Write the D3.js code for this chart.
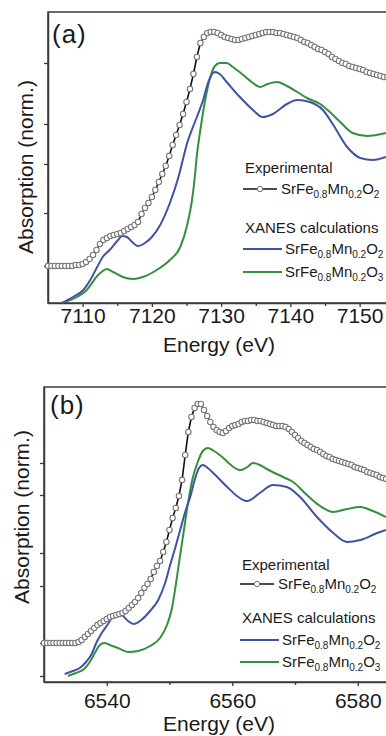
<!DOCTYPE html>
<html>
<head>
<meta charset="utf-8">
<script src="https://cdn.jsdelivr.net/npm/d3@7"></script>
<style>
body { margin: 0; background: #fff; }
svg { display: block; font-family: "Liberation Sans", Arial, sans-serif; }
</style>
</head>
<body>
<svg id="chart"></svg>
<script>
// ---- panel (a): Fe K-edge ----
const expAEnergy = [
7105,7105.5,7106,7106.5,7107,7107.5,7108,7108.5,7109,7109.5,
7110,7110.5,7111,7111.5,7112,7112.5,7113,7113.5,7114,7114.5,
7115,7115.5,7116,7116.5,7117,7117.5,7118,7118.5,7119,7119.5,
7120,7120.5,7121,7121.5,7122,7122.5,7123,7123.5,7124,7124.5,
7125,7125.5,7126,7126.5,7127,7127.5,7128,7128.5,7129,7129.5,
7130,7130.5,7131,7131.5,7132,7132.5,7133,7133.5,7134,7134.5,
7135,7135.5,7136,7136.5,7137,7137.5,7138,7138.5,7139,7139.5,
7140,7140.5,7141,7141.5,7142,7142.5,7143,7143.5,7144,7144.5,
7145,7145.5,7146,7146.5,7147,7147.5,7148,7148.5,7149,7149.5,
7150,7150.5,7151,7151.5,7152,7152.5,7153,7153.5,7154,7154.5,
7155];
const expAValue = [
.37,.37,.37,.37,.37,.37,.37,.37,.38,.38,
.39,.41,.44,.48,.53,.59,.63,.65,.67,.68,
.69,.70,.72,.74,.76,.78,.81,.89,.95,1.00,
1.06,1.13,1.21,1.29,1.37,1.47,1.58,1.68,1.78,1.89,
2.01,2.14,2.29,2.46,2.60,2.66,2.70,2.71,2.71,2.70,
2.68,2.66,2.65,2.64,2.63,2.63,2.64,2.65,2.66,2.67,
2.68,2.69,2.70,2.71,2.71,2.71,2.70,2.70,2.69,2.68,
2.67,2.66,2.65,2.63,2.61,2.60,2.58,2.56,2.54,2.53,
2.51,2.49,2.46,2.44,2.42,2.40,2.39,2.37,2.36,2.35,
2.34,2.33,2.31,2.30,2.29,2.28,2.27,2.26,2.26,2.25,
2.25];
const calcAO2Energy = [7107.0,7108.6,7110.1,7111.1,7112.1,7112.9,7113.9,7115.0,7115.7,7116.4,7117.3,7118.0,7119.0,7120.0,7121.2,7122.6,7123.8,7125.1,7126.5,7127.4,7128.1,7128.7,7129.1,7129.8,7130.8,7132.7,7134.6,7136.0,7137.5,7139.5,7141.0,7142.8,7144.7,7146.2,7148.2,7150.1,7151.9,7153.8];
const calcAO2Value = [0,.06,.13,.23,.36,.46,.53,.62,.67,.66,.60,.57,.60,.66,.78,1.00,1.25,1.60,1.86,2.03,2.20,2.29,2.31,2.29,2.21,2.06,1.93,1.86,1.89,1.99,2.03,2.01,1.93,1.78,1.56,1.45,1.43,1.46];
const calcAO3Energy = [7107.0,7109.2,7110.6,7112.1,7112.9,7113.5,7114.4,7115.8,7117.3,7118.7,7120.7,7122.6,7124.1,7125.1,7125.8,7126.2,7126.5,7127.0,7127.7,7128.4,7129.1,7129.8,7130.8,7131.7,7133.2,7134.6,7135.6,7136.7,7138.1,7139.5,7141.0,7142.4,7144.3,7145.7,7147.2,7149.0,7151.1,7153.8];
const calcAO3Value = [0,.06,.13,.27,.32,.34,.31,.26,.24,.26,.33,.43,.56,.78,1.03,1.26,1.48,1.73,2.03,2.25,2.37,2.40,2.40,2.36,2.28,2.20,2.16,2.19,2.21,2.17,2.11,2.05,1.99,1.91,1.81,1.70,1.67,1.70];
const xTicksA = [7110, 7120, 7130, 7140, 7150];
const xMinorA = [7115, 7125, 7135, 7145];
const yTicksA = [0.37, 0.90, 1.39, 1.79, 2.40];

// ---- panel (b): Mn K-edge ----
const expBEnergy = [
6530,6530.5,6531,6531.5,6532,6532.5,6533,6533.5,6534,6534.5,
6535,6535.5,6536,6536.5,6537,6537.5,6538,6538.5,6539,6539.5,
6540,6540.5,6541,6541.5,6542,6542.5,6543,6543.5,6544,6544.5,
6545,6545.5,6546,6546.5,6547,6547.5,6548,6548.5,6549,6549.5,
6550,6550.5,6551,6551.5,6552,6552.5,6553,6553.5,6554,6554.5,
6555,6555.5,6556,6556.5,6557,6557.5,6558,6558.5,6559,6559.5,
6560,6560.5,6561,6561.5,6562,6562.5,6563,6563.5,6564,6564.5,
6565,6565.5,6566,6566.5,6567,6567.5,6568,6568.5,6569,6569.5,
6570,6570.5,6571,6571.5,6572,6572.5,6573,6573.5,6574,6574.5,
6575,6575.5,6576,6576.5,6577,6577.5,6578,6578.5,6579,6579.5,
6580,6580.5,6581,6581.5,6582,6582.5,6583,6583.5,6584,6584.5,
6585];
const expBValue = [
.39,.39,.39,.39,.39,.39,.39,.39,.39,.39,
.39,.40,.42,.45,.48,.51,.54,.57,.59,.61,
.63,.65,.66,.67,.68,.69,.71,.74,.77,.80,
.84,.89,.94,.98,1.03,1.10,1.16,1.21,1.30,1.40,
1.52,1.64,1.74,1.86,2.02,2.27,2.50,2.65,2.74,2.78,
2.78,2.72,2.66,2.60,2.55,2.52,2.50,2.49,2.51,2.54,
2.56,2.57,2.58,2.60,2.61,2.61,2.62,2.62,2.61,2.61,
2.60,2.59,2.58,2.57,2.56,2.56,2.56,2.55,2.53,2.50,
2.47,2.44,2.41,2.39,2.37,2.35,2.33,2.32,2.30,2.28,
2.26,2.25,2.23,2.22,2.21,2.20,2.19,2.18,2.17,2.15,
2.14,2.13,2.12,2.10,2.09,2.08,2.07,2.05,2.04,2.03,
2.03];
const calcBO2Energy = [6533.3,6534.6,6535.7,6536.7,6537.6,6538.4,6539.2,6540.2,6541.0,6541.6,6542.4,6543.4,6544.3,6545.5,6546.9,6548.2,6549.3,6550.1,6550.9,6551.7,6552.5,6553.3,6554.1,6554.7,6555.3,6556.1,6557.3,6559.2,6561.2,6562.4,6564.4,6566.5,6568.7,6570.8,6573.5,6576.1,6578.3,6580.4,6583.1,6584.5];
const calcBO2Value = [.08,.11,.14,.20,.28,.40,.49,.58,.66,.69,.67,.61,.58,.62,.71,.82,.99,1.17,1.34,1.52,1.70,1.85,2.04,2.14,2.17,2.14,2.07,1.95,1.84,1.81,1.89,1.97,1.95,1.85,1.65,1.49,1.40,1.42,1.49,1.52];
const calcBO3Energy = [6533.8,6535.1,6536.4,6537.3,6538.1,6538.9,6539.6,6540.5,6541.8,6543.4,6545.0,6546.9,6548.5,6549.6,6550.4,6551.0,6551.7,6552.3,6552.9,6553.7,6554.5,6555.3,6556.1,6557.1,6558.4,6559.6,6561.2,6562.4,6563.3,6564.4,6565.5,6568.1,6569.7,6571.9,6574.0,6576.1,6578.3,6580.4,6582.4,6584.5];
const calcBO3Value = [.06,.09,.13,.20,.29,.37,.39,.37,.34,.30,.31,.36,.44,.57,.74,.97,1.27,1.52,1.77,2.04,2.20,2.31,2.34,2.31,2.25,2.18,2.12,2.15,2.19,2.17,2.13,2.05,2.00,1.87,1.76,1.70,1.73,1.75,1.71,1.65];
const xTicksB = [6540, 6560, 6580];
const xMinorB = [6550, 6570];
const yTicksB = [0.06, 0.39, 0.96, 1.29, 1.87, 2.19];

const blue = "#4152a6";
const green = "#35903e";
const textCol = "#1a1a1a";
const axisCol = "#3a3a3a";

let svg = d3.select("#chart").attr("width", 386).attr("height", 736);

function zip(xs, ys) {
  return xs.map((x, i) => ({ x: x, y: ys[i] }));
}

function drawPanel(p) {
  let g = svg.append("g");
  let x = d3.scaleLinear().domain(p.xDomain).range(p.xRange);
  let y = d3.scaleLinear().domain(p.yDomain).range(p.yRange);

  // frame (right edge falls outside the picture)
  g.append("rect")
    .attr("x", x(p.xDomain[0])).attr("y", y(p.yDomain[1]))
    .attr("width", x(p.xDomain[1]) - x(p.xDomain[0]))
    .attr("height", y(p.yDomain[0]) - y(p.yDomain[1]))
    .attr("fill", "none").attr("stroke", axisCol).attr("stroke-width", 1.5);

  // axes
  let ax = g.append("g").attr("transform", `translate(0,${y(p.yDomain[0])})`)
    .call(d3.axisBottom(x).tickValues(p.xTicks).tickSize(4).tickSizeOuter(0).tickFormat(d3.format("d")));
  ax.select(".domain").attr("stroke", axisCol).attr("stroke-width", 1.5);
  ax.selectAll(".tick line").attr("stroke", axisCol).attr("stroke-width", 1.3);
  ax.selectAll(".tick text").attr("fill", textCol).attr("font-size", 21)
    .attr("font-family", "Liberation Sans, Arial, sans-serif").attr("dy", null).attr("y", p.tickLabelY);
  let axm = g.append("g").attr("transform", `translate(0,${y(p.yDomain[0])})`)
    .call(d3.axisBottom(x).tickValues(p.xMinor).tickSize(3).tickSizeOuter(0).tickFormat(""));
  axm.select(".domain").remove();
  axm.selectAll(".tick line").attr("stroke", axisCol).attr("stroke-width", 1.3);

  let ay = g.append("g").attr("transform", `translate(${x(p.xDomain[0])},0)`)
    .call(d3.axisLeft(y).tickValues(p.yTicks).tickSize(4).tickSizeOuter(0).tickFormat(""));
  ay.select(".domain").attr("stroke", axisCol).attr("stroke-width", 1.5);
  ay.selectAll(".tick line").attr("stroke", axisCol).attr("stroke-width", 1.3);

  // titles
  g.append("text").attr("x", 219).attr("y", p.xTitleY).attr("text-anchor", "middle")
    .attr("font-size", 21).attr("fill", textCol).text("Energy (eV)");
  g.append("text").attr("transform", `translate(${p.yTitleX},${p.yTitleY}) rotate(-90)`)
    .attr("text-anchor", "middle").attr("font-size", 21).attr("fill", textCol).text("Absorption (norm.)");
  g.append("text").attr("x", p.tagX).attr("y", p.tagY).attr("font-size", 26)
    .attr("letter-spacing", 1).attr("fill", textCol).text(p.tag);

  // curves
  let smooth = d3.line().x(d => x(d.x)).y(d => y(d.y)).curve(d3.curveMonotoneX);
  let straight = d3.line().x(d => x(d.x)).y(d => y(d.y));
  g.append("path").datum(zip(p.o3E, p.o3V)).attr("d", smooth)
    .attr("fill", "none").attr("stroke", green).attr("stroke-width", 2);
  g.append("path").datum(zip(p.o2E, p.o2V)).attr("d", smooth)
    .attr("fill", "none").attr("stroke", blue).attr("stroke-width", 2);
  g.append("path").datum(zip(p.expE, p.expV)).attr("d", straight)
    .attr("fill", "none").attr("stroke", "#111").attr("stroke-width", 1.6);
  g.selectAll(".pt").data(zip(p.expE, p.expV)).enter().append("circle")
    .attr("cx", d => x(d.x)).attr("cy", d => y(d.y)).attr("r", 2.7)
    .attr("fill", "#fff").attr("stroke", "#777").attr("stroke-width", 1.1);

  // legend
  let L = p.legend;
  let leg = g.append("g");
  leg.append("text").attr("x", L.x).attr("y", L.rows[0]).attr("font-size", 15).attr("fill", textCol).text("Experimental");
  leg.append("text").attr("x", L.x).attr("y", L.rows[2]).attr("font-size", 15).attr("fill", textCol).text("XANES calculations");
  let ly = L.rows[1] - 5;
  leg.append("line").attr("x1", L.x - 2).attr("x2", L.x + 32).attr("y1", ly).attr("y2", ly)
    .attr("stroke", "#111").attr("stroke-width", 1.6);
  leg.append("circle").attr("cx", L.x + 15).attr("cy", ly).attr("r", 2.7)
    .attr("fill", "#fff").attr("stroke", "#777");
  formula(leg, L.x + 36, L.rows[1], "2");
  [[L.rows[3], blue, "2"], [L.rows[4], green, "3"]].forEach(r => {
    leg.append("line").attr("x1", L.x - 2).attr("x2", L.x + 37).attr("y1", r[0] - 5).attr("y2", r[0] - 5)
      .attr("stroke", r[1]).attr("stroke-width", 2);
    formula(leg, L.x + 40, r[0], r[2]);
  });
}

function formula(sel, x, y, ox) {
  let t = sel.append("text").attr("x", x).attr("y", y).attr("font-size", 15).attr("fill", textCol);
  let parts = [["SrFe", 0], ["0.8", 1], ["Mn", 0], ["0.2", 1], ["O", 0], [ox, 1]];
  let prev = 0;
  parts.forEach(pt => {
    let shift = pt[1] ? 4 : 0;
    t.append("tspan").attr("dy", shift - prev).attr("font-size", pt[1] ? 10 : 15).text(pt[0]);
    prev = shift;
  });
}

drawPanel({
  xDomain: [7105, 7155], xRange: [48, 394.25],
  yDomain: [0, 2.91], yRange: [303, 12],
  xTicks: xTicksA, xMinor: xMinorA, yTicks: yTicksA,
  tickLabelY: 20, xTitleY: 352, yTitleX: 33, yTitleY: 167,
  tag: "(a)", tagX: 52, tagY: 43,
  expE: expAEnergy, expV: expAValue,
  o2E: calcAO2Energy, o2V: calcAO2Value, o3E: calcAO3Energy, o3V: calcAO3Value,
  legend: { x: 245, rows: [173, 194, 233, 254, 277] }
});

drawPanel({
  xDomain: [6530, 6590], xRange: [44, 420.5],
  yDomain: [0, 2.95], yRange: [682, 387],
  xTicks: xTicksB, xMinor: xMinorB, yTicks: yTicksB,
  tickLabelY: 26, xTitleY: 731, yTitleX: 29, yTitleY: 517,
  tag: "(b)", tagX: 50, tagY: 414,
  expE: expBEnergy, expV: expBValue,
  o2E: calcBO2Energy, o2V: calcBO2Value, o3E: calcBO3Energy, o3V: calcBO3Value,
  legend: { x: 242, rows: [570, 589, 623, 645, 667] }
});
</script>
</body>
</html>
